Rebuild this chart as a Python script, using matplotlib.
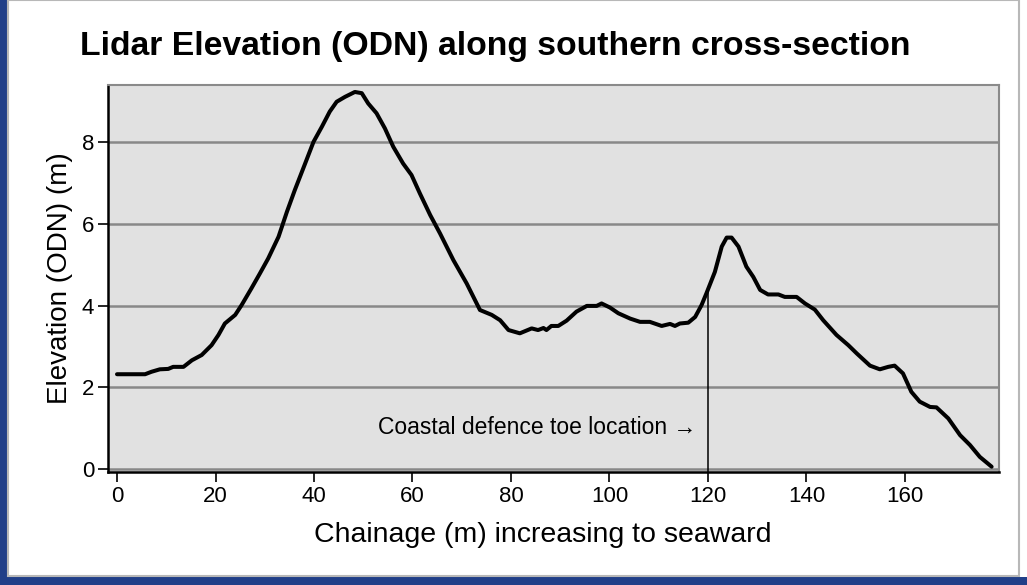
import numpy as np
import matplotlib
matplotlib.use("Agg")
import matplotlib.pyplot as plt
from matplotlib.patches import Rectangle

plt.rcParams['font.family'] = ['Liberation Sans', 'DejaVu Sans']

# chainage (m) and elevation (m ODN)
chainage = [0, 5.7, 7.0, 8.7, 10.4, 11.4, 13.5, 15.2, 17.2, 19.2, 20.6, 21.9, 24.0,
            25.3, 27.3, 29.0, 30.7, 32.8, 34.5, 36.1, 38.2, 39.9, 41.6, 43.2, 44.6,
            46.3, 48.3, 49.7, 51.0, 52.7, 54.4, 56.1, 58.1, 59.8, 61.5, 63.6, 65.6,
            68.3, 71.0, 73.7, 76.1, 77.8, 79.5, 81.8, 84.2, 85.5, 86.6, 87.2, 88.2,
            89.6, 91.3, 93.3, 95.4, 97.4, 98.4, 100.1, 101.8, 104.2, 106.2, 108.2,
            110.6, 112.3, 113.3, 114.3, 116.0, 117.4, 118.7, 119.7, 121.4, 122.8,
            123.8, 124.8, 126.2, 127.8, 129.2, 130.6, 132.2, 134.3, 135.6, 138.0,
            139.7, 141.7, 143.4, 146.1, 148.5, 150.2, 152.9, 154.9, 156.6, 157.9,
            159.6, 161.3, 163.0, 165.1, 166.4, 168.8, 171.2, 173.2, 175.2, 177.6]
elevation = [2.32, 2.32, 2.38, 2.44, 2.45, 2.50, 2.50, 2.66, 2.79, 3.03, 3.28, 3.56, 3.77,
             4.01, 4.42, 4.78, 5.15, 5.68, 6.29, 6.82, 7.47, 8.00, 8.37, 8.74, 8.98,
             9.10, 9.22, 9.19, 8.94, 8.70, 8.33, 7.88, 7.47, 7.19, 6.74, 6.21, 5.76,
             5.11, 4.54, 3.89, 3.77, 3.64, 3.40, 3.32, 3.44, 3.40, 3.45, 3.40, 3.50,
             3.50, 3.63, 3.85, 3.99, 3.99, 4.05, 3.95, 3.81, 3.68, 3.60, 3.60,
             3.50, 3.55, 3.50, 3.56, 3.58, 3.72, 4.01, 4.30, 4.82, 5.44,
             5.66, 5.66, 5.44, 4.95, 4.70, 4.38, 4.27, 4.27, 4.21, 4.21,
             4.05, 3.90, 3.64, 3.28, 3.03, 2.83, 2.53, 2.44, 2.50, 2.53,
             2.34, 1.89, 1.65, 1.52, 1.51, 1.24, 0.83, 0.59, 0.30, 0.06]

toe_x = 120
toe_label = 'Coastal defence toe location \u2192'
x_ticks = [0, 20, 40, 60, 80, 100, 120, 140, 160]
y_ticks = [0, 2, 4, 6, 8]

W, H = 1027, 585
fig = plt.figure(figsize=(W / 100, H / 100), dpi=100)
fig.patch.set_facecolor('white')

# slide background: blue strip on the left and bottom, grey panel edge
fig.patches.append(Rectangle((0, 0), 7 / W, 1, transform=fig.transFigure,
                             facecolor='#213f88', edgecolor='none', zorder=-5))
fig.patches.append(Rectangle((0, 0), 1, 8 / H, transform=fig.transFigure,
                             facecolor='#213f88', edgecolor='none', zorder=-5))
fig.patches.append(Rectangle((8 / W, 9 / H), 1011 / W, 1 - 9 / H, transform=fig.transFigure,
                             facecolor='none', edgecolor='#b8b8b8', lw=1.5, zorder=-4))

ax = fig.add_axes([108 / W, (H - 472) / H, 891 / W, 387 / H])
ax.set_facecolor('#e1e1e1')
ax.set_xlim(-1.83, 179.1)
ax.set_ylim(-0.07, 9.39)

for y in y_ticks:
    ax.axhline(y, color='#888888', lw=1.8, zorder=1)

ax.plot(chainage, elevation, color='black', lw=2.9, solid_joinstyle='round',
        solid_capstyle='round', zorder=3)

toe_y = np.interp(toe_x, chainage, elevation)
ax.plot([toe_x, toe_x], [-0.07, toe_y], color='black', lw=1.1, zorder=2)
ax.text(toe_x - 2.4, 1.03, toe_label, ha='right', va='center', fontsize=16.5)

ax.set_xticks(x_ticks)
ax.set_yticks(y_ticks)
ax.tick_params(axis='both', direction='out', length=7, width=1.2, labelsize=16, pad=3)

for s in ['top', 'right']:
    ax.spines[s].set_color('#8a8a8a')
    ax.spines[s].set_linewidth(1.5)
for s in ['left', 'bottom']:
    ax.spines[s].set_color('black')
    ax.spines[s].set_linewidth(1.8)

ax.set_xlabel('Chainage (m) increasing to seaward', fontsize=20.5, labelpad=5)
ax.xaxis.set_label_coords(0.488, -0.13)
ax.set_ylabel('Elevation (ODN) (m)', fontsize=20, labelpad=6)

fig.text(80 / W, 1 - 46 / H, 'Lidar Elevation (ODN) along southern cross-section',
         fontsize=24.3, fontweight='bold', ha='left', va='center')

fig.savefig('out.png', dpi=100, facecolor=fig.get_facecolor())
